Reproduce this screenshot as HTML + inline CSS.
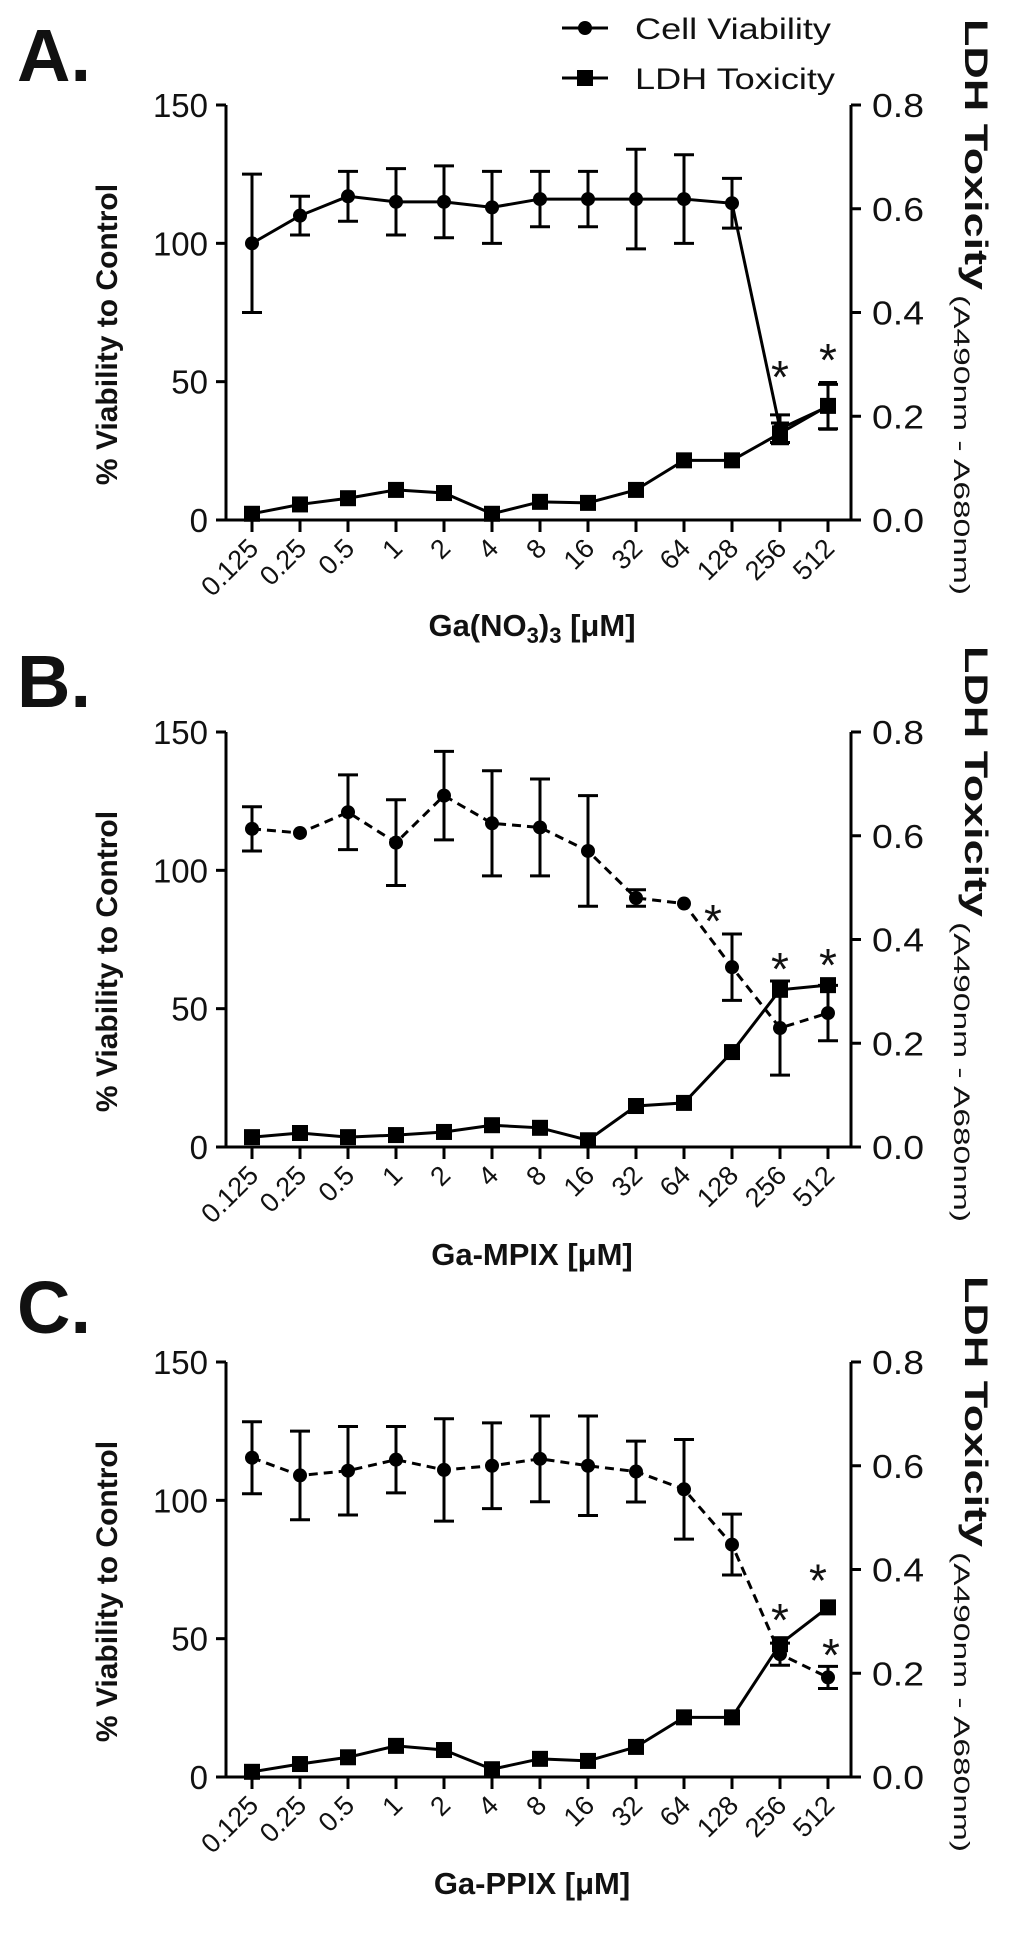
<!DOCTYPE html>
<html><head><meta charset="utf-8"><title>Cell viability and LDH toxicity</title>
<style>
html,body{margin:0;padding:0;background:#fff;}
svg{display:block;}
text{font-family:"Liberation Sans",Arial,sans-serif;fill:#111;}
</style></head>
<body>
<svg id="fig" width="1024" height="1955" viewBox="0 0 1024 1955" xmlns="http://www.w3.org/2000/svg">
  <g>
    <g>
      <line x1="562" y1="28" x2="608" y2="28" stroke="#000" stroke-width="3"/>
      <circle cx="585" cy="28" r="7" fill="#000"/>
      <text x="635" y="39" font-size="30" textLength="196" lengthAdjust="spacingAndGlyphs">Cell Viability</text>
    </g>
    <g>
      <line x1="562" y1="78" x2="608" y2="78" stroke="#000" stroke-width="3"/>
      <rect x="577" y="70" width="16" height="16" fill="#000"/>
      <text x="635" y="89" font-size="30" textLength="200" lengthAdjust="spacingAndGlyphs">LDH Toxicity</text>
    </g>
  </g>
</svg>
<script>
// ---- Chart data ----
const categories = ["0.125","0.25","0.5","1","2","4","8","16","32","64","128","256","512"];
const leftTicks = [0,50,100,150];
const rightTicks = ["0.0","0.2","0.4","0.6","0.8"];
const rightTickValues = [0,0.2,0.4,0.6,0.8];

const panelLetters = ["A.","B.","C."];
const panelTitles = ["Ga(NO3)3","Ga-MPIX","Ga-PPIX"];

const viabilityA = [100,110,117,115,115,113,116,116,116,116,114.5,33,41];
const viabilityErrA = [25,7,9,12,13,13,10,10,18,16,9,5,8];
const ldhA = [0.012,0.030,0.042,0.058,0.052,0.012,0.035,0.033,0.058,0.115,0.115,0.167,0.22];
const ldhErrA = [0,0,0,0,0,0,0,0,0,0,0,0.02,0.045];
const astCatA = [11,12];
const astValA = [55,61];
const astDxA = [0,0];

const viabilityB = [115,113.5,121,110,127,117,115.5,107,90,88,65,43,48.4];
const viabilityErrB = [8,1,13.5,15.5,16,19,17.5,20,3,1,12,17,10];
const ldhB = [0.019,0.027,0.019,0.023,0.029,0.042,0.037,0.013,0.079,0.085,0.183,0.303,0.312];
const ldhErrB = [0,0,0,0,0,0,0,0,0,0,0,0,0];
const astCatB = [10,11,12];
const astValB = [85,67.6,69];
const astDxB = [-19,0,0];

const viabilityC = [115.4,109,110.7,114.7,111,112.5,115,112.5,110.4,104,84,44.4,36];
const viabilityErrC = [13,16,16,12,18.5,15.5,15.5,18,11,18,11,4,4];
const ldhC = [0.010,0.025,0.038,0.060,0.052,0.015,0.035,0.031,0.058,0.115,0.115,0.256,0.327];
const ldhErrC = [0,0,0,0,0,0,0,0,0,0,0,0,0];
const astCatC = [11,12,12];
const astValC = [60,74.3,47.3];
const astDxC = [0,-10,3];

const NS = "http://www.w3.org/2000/svg";
const svg = document.getElementById("fig");
function mk(tag, attrs, parent){
  const e = document.createElementNS(NS, tag);
  for (const k in attrs) e.setAttribute(k, attrs[k]);
  (parent||svg).appendChild(e);
  return e;
}

function drawPanel(p, vData, vErr, lData, lErr, astCat, astVal, astDx, dashed){
  const top = [105,732,1362][p];
  const H = 415;
  const bottom = top + H;
  const leftX = 226, rightX = 851, x0 = 252, dx = 48;
  const xs = i => x0 + i*dx;
  const yL = v => bottom - v/150*H;
  const yR = v => bottom - v/0.8*H;

  const g = mk("g", {});
  
  

  const letter = mk("text", {x:17, y:[81,707,1333][p], "font-size":74, "font-weight":"bold"}, g);
  letter.textContent = panelLetters[p];
  
  

  // axes
  const axes = mk("g", {stroke:"#000","stroke-width":3,fill:"none"}, g);
  
  
  mk("path", {d:`M${leftX},${top} V${bottom} H${rightX} V${top}`}, axes);
  leftTicks.forEach(v => mk("line",{x1:leftX-10,y1:yL(v),x2:leftX,y2:yL(v)},axes));
  rightTickValues.forEach(v => mk("line",{x1:rightX,y1:yR(v),x2:rightX+10,y2:yR(v)},axes));
  categories.forEach((c,i) => mk("line",{x1:xs(i),y1:bottom,x2:xs(i),y2:bottom+12},axes));

  leftTicks.forEach(v => {
    const t = mk("text",{x:208,y:yL(v)+12,"font-size":33,"text-anchor":"end"},g);
    t.textContent = String(v);
    
    
  });
  rightTicks.forEach((s,i) => {
    const t = mk("text",{x:872,y:yR(rightTickValues[i])+12,"font-size":33,textLength:52,lengthAdjust:"spacingAndGlyphs"},g);
    t.textContent = s;
    
    
  });
  categories.forEach((c,i) => {
    const tx = xs(i)+8, ty = bottom+30;
    const t = mk("text",{x:tx,y:ty,"font-size":27,"text-anchor":"end",transform:`rotate(-45 ${tx} ${ty})`},g);
    t.textContent = c;
    
    
  });

  // axis titles
  const yt = mk("text",{x:0,y:0,"font-size":30,"font-weight":"bold","text-anchor":"middle",transform:`translate(117 ${top+H/2+22}) rotate(-90)`},g);
  yt.textContent = "% Viability to Control";
  
  

  const ry = top - 86;
  const rt = mk("text",{x:0,y:0,"font-size":32,"font-weight":"bold",textLength:271,lengthAdjust:"spacingAndGlyphs",transform:`translate(965 ${ry}) rotate(90)`},g);
  rt.textContent = "LDH Toxicity";
  
  
  const rs = mk("text",{x:0,y:0,"font-size":22,textLength:300,lengthAdjust:"spacingAndGlyphs",transform:`translate(954 ${ry+276}) rotate(90)`},g);
  rs.textContent = "(A490nm - A680nm)";
  
  

  const xt = mk("text",{x:532,y:[636,1265,1894][p],"font-size":31,"font-weight":"bold","text-anchor":"middle"},g);
  
  
  if (p===0){
    xt.innerHTML = 'Ga(NO<tspan font-size="22" dy="7">3</tspan><tspan dy="-7">)</tspan><tspan font-size="22" dy="7">3</tspan><tspan dy="-7"> [μM]</tspan>';
  } else {
    xt.textContent = panelTitles[p] + " [μM]";
  }

  // LDH series
  const lg = mk("g",{},g);
  
  
  mk("polyline",{points:lData.map((v,i)=>xs(i)+","+yR(v)).join(" "),fill:"none",stroke:"#000","stroke-width":3},lg);
  lData.forEach((v,i)=>{
    if (lErr[i]>0){
      const a=yR(v+lErr[i]), b=yR(v-lErr[i]);
      mk("path",{d:`M${xs(i)},${a} V${b} M${xs(i)-9},${a} h18 M${xs(i)-9},${b} h18`,stroke:"#000","stroke-width":3,fill:"none"},lg);
    }
    const r = mk("rect",{x:xs(i)-8,y:yR(v)-8,width:16,height:16,fill:"#000"},lg);
    
    
  });

  // Viability series
  const vg = mk("g",{},g);
  
  
  const pl = mk("polyline",{points:vData.map((v,i)=>xs(i)+","+yL(v)).join(" "),fill:"none",stroke:"#000","stroke-width":3},vg);
  if (dashed) pl.setAttribute("stroke-dasharray","9 6");
  vData.forEach((v,i)=>{
    if (vErr[i]>1.5){
      const a=yL(v+vErr[i]), b=yL(v-vErr[i]);
      mk("path",{d:`M${xs(i)},${a} V${b} M${xs(i)-10},${a} h20 M${xs(i)-10},${b} h20`,stroke:"#000","stroke-width":3,fill:"none"},vg);
    }
    const c = mk("circle",{cx:xs(i),cy:yL(v),r:7,fill:"#000"},vg);
    
    
  });

  // significance asterisks
  astCat.forEach((ci,k)=>{
    const t = mk("text",{x:xs(ci)+astDx[k],y:yL(astVal[k])+25,"font-size":46,"text-anchor":"middle"},g);
    t.textContent = "*";
    
    
  });
}

drawPanel(0, viabilityA, viabilityErrA, ldhA, ldhErrA, astCatA, astValA, astDxA, false);
drawPanel(1, viabilityB, viabilityErrB, ldhB, ldhErrB, astCatB, astValB, astDxB, true);
drawPanel(2, viabilityC, viabilityErrC, ldhC, ldhErrC, astCatC, astValC, astDxC, true);
</script>
</body></html>
